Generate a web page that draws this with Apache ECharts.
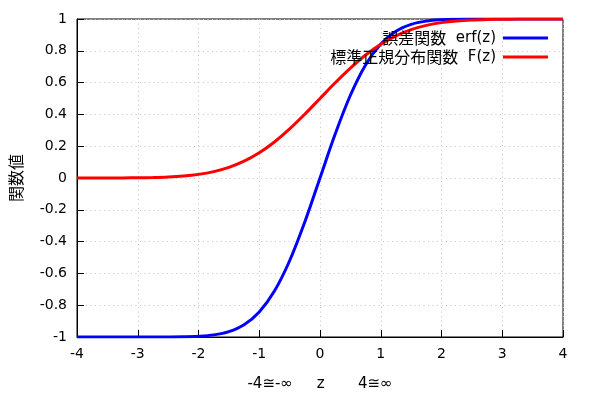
<!DOCTYPE html>
<html>
<head>
    <meta charset="utf-8">
    <title>誤差関数と標準正規分布関数</title>
    <script src="https://cdn.jsdelivr.net/npm/echarts@6/dist/echarts.min.js"></script>
    <style>
        body { margin: 0; background: #fff; }
        #chart { width: 600px; height: 400px; }
    </style>
</head>
<body>
    <div id="chart"></div>

    <script type="text/javascript">

        // z の値 (-4 ～ 4, 0.25 刻み)
        var zList = [-4, -3.75, -3.5, -3.25, -3, -2.75, -2.5, -2.25, -2, -1.75, -1.5, -1.25, -1, -0.75, -0.5, -0.25,
                     0, 0.25, 0.5, 0.75, 1, 1.25, 1.5, 1.75, 2, 2.25, 2.5, 2.75, 3, 3.25, 3.5, 3.75, 4];

        // 誤差関数 erf(z)
        var erfList = [-1.0000, -1.0000, -1.0000, -1.0000, -1.0000, -0.9999, -0.9996, -0.9985, -0.9953, -0.9867,
                       -0.9661, -0.9229, -0.8427, -0.7112, -0.5205, -0.2763,
                       0, 0.2763, 0.5205, 0.7112, 0.8427, 0.9229, 0.9661, 0.9867, 0.9953, 0.9985, 0.9996,
                       0.9999, 1.0000, 1.0000, 1.0000, 1.0000, 1.0000];

        // 標準正規分布関数 F(z)
        var cdfList = [0.0000, 0.0001, 0.0002, 0.0006, 0.0013, 0.0030, 0.0062, 0.0122, 0.0228, 0.0401,
                       0.0668, 0.1056, 0.1587, 0.2266, 0.3085, 0.4013,
                       0.5, 0.5987, 0.6915, 0.7734, 0.8413, 0.8944, 0.9332, 0.9599, 0.9772, 0.9878, 0.9938,
                       0.9970, 0.9987, 0.9994, 0.9998, 0.9999, 1.0000];

        var nameErf = '誤差関数  erf(z)';
        var nameCdf = '標準正規分布関数  F(z)';

        function pairs(ys) {
            var out = [];
            for (var i = 0; i < zList.length; i++) {
                out.push([zList[i], ys[i]]);
            }
            return out;
        }

        // 凡例: 日本語部分だけ少し大きく
        function legendLabel(name) {
            var p = name.split('  ');
            return '{c|' + p[0] + '}{l|  ' + p[1] + '}';
        }

        var font = 'Tahoma, "DejaVu Sans", "Noto Sans CJK JP", sans-serif';
        var cjk = '"Noto Sans CJK JP", sans-serif';
        var myChart = echarts.init(document.getElementById('chart'));

        var legendCommon = {
            orient: 'vertical',
            align: 'right',
            right: 47,
            itemWidth: 45,
            itemHeight: 3,
            itemGap: 4,
            icon: 'rect',
            selectedMode: false,
            formatter: legendLabel,
            textStyle: {
                fontFamily: font, fontSize: 14, color: '#000', padding: [0, 2, 0, 0],
                rich: {
                    c: { fontFamily: cjk, fontSize: 16, color: '#000' },
                    l: { fontFamily: font, fontSize: 15, color: '#000' }
                }
            }
        };

        myChart.setOption({
            animation: false,
            textStyle: { fontFamily: font },
            grid: {
                left: 77,
                right: 37,
                top: 19,
                bottom: 63,
                show: true,
                borderColor: '#000',
                borderWidth: 1
            },
            legend: [
                Object.assign({}, legendCommon, { top: 25, data: [nameErf] }),
                Object.assign({}, legendCommon, { top: 44, data: [nameCdf] })
            ],
            xAxis: {
                type: 'value',
                min: -4,
                max: 4,
                interval: 1,
                name: '-4≅-∞     z       4≅∞',
                nameLocation: 'middle',
                nameGap: 40,
                nameTextStyle: { fontSize: 15, color: '#000' },
                axisLine: { show: true, onZero: false, lineStyle: { color: '#000' } },
                axisTick: { inside: true, length: 7, lineStyle: { color: '#000' } },
                axisLabel: { fontSize: 14, color: '#000', margin: 10 },
                splitLine: { show: true, lineStyle: { color: '#c4c4c4', type: [1, 3.5] } }
            },
            yAxis: {
                type: 'value',
                min: -1,
                max: 1,
                interval: 0.2,
                name: '関数値',
                nameLocation: 'middle',
                nameGap: 53,
                nameTextStyle: { fontFamily: cjk, fontSize: 16, color: '#000' },
                axisLine: { show: true, onZero: false, lineStyle: { color: '#000' } },
                axisTick: { inside: true, length: 7, lineStyle: { color: '#000' } },
                axisLabel: {
                    fontSize: 14,
                    color: '#000',
                    margin: 10,
                    formatter: function (v) { return String(Math.round(v * 10) / 10); }
                },
                splitLine: { show: true, lineStyle: { color: '#c4c4c4', type: [1, 3.5] } }
            },
            series: [
                {
                    name: nameErf,
                    type: 'line',
                    data: pairs(erfList),
                    smooth: 0.35,
                    showSymbol: false,
                    color: '#0000ff',
                    lineStyle: { width: 3, color: '#0000ff' }
                },
                {
                    name: nameCdf,
                    type: 'line',
                    data: pairs(cdfList),
                    smooth: 0.35,
                    showSymbol: false,
                    color: '#ff0000',
                    lineStyle: { width: 3, color: '#ff0000' }
                }
            ]
        });

    </script>
</body>
</html>
